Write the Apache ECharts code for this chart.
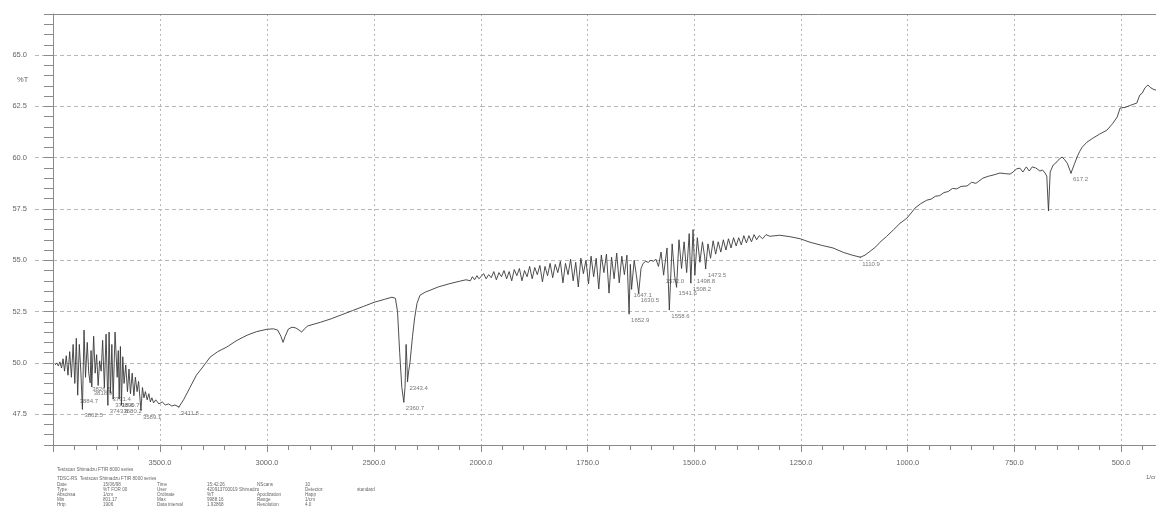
<!DOCTYPE html>
<html><head><meta charset="utf-8">
<script src="https://cdn.jsdelivr.net/npm/echarts@6/dist/echarts.min.js"></script>
<style>html,body{margin:0;padding:0;background:#fff}#c{width:1156px;height:509px}</style>
</head><body><div id="c"></div>
<script>
// ---- data (wavenumber in 1/cm, transmittance in %T) ----
const wavenumbers = [
 3990,3982,3975,3968,3960,3953,3946,3938,3930,3922,3914,3906,3898,3891,3884.7,3877,3870,3862.5,3855,3848,
 3840,3833,3826.5,3822,3818.9,3810,3803,3796,3789,3782,3775,3768,3760,3752,3743.6,3738,3731.4,3725,3718.8,3710,
 3700,3695,3690.7,3685,3680.2,3674,3668,3660,3652,3645,3638,3630,3622,3615,3607,3600,3589.1,3582,3575,3568,
 3560,3552,3545,3538,3530,3520,3505,3490,3475,3460,3445,3430,3411.8,3390,3360,3330,3300,3266,3230,3187,
 3140,3093,3050,3000,2970,2950,2935,2925,2915,2900,2883,2865,2850,2838,2826,2810,2750,2700,2650,2600,
 2550,2500,2450,2416,2400,2390,2380,2370,2360.7,2355,2350,2346,2343.4,2338,2332,2320,2310,2299,2285,2260,
 2238,2200,2150,2100,2070,2050,2040,2030,2019,2010,
 2000,1994,1988,1982,1976,1970,1964,1958,1952,1946,1940,1934,1928,1922,1916,1910,1904,1898,1892,1886,
 1880,1874,1868,1862,1856,1850,1844,1838,1832,1826,1820,1814,1808,1802,1796,1790,1784,1778,1772,1766,
 1760,1754,1748,1742,1736,1730,1724,1718,1712,1706,1700,1694,1688,1682,1676,1670,1664,1658,1652.9,1650,
 1647.1,1641,1636,1630.5,1625,1620,1614,1608,1602,1596,1590,1584,1578,1572,1564,1558.6,1552,1546,1541.6,1536,
 1530,1524,1518,1512,1508.2,1503,1498.8,1493,1487,1481,1476,1473.5,1468,1462,1456,1450,1444,1438,1432,1426,
 1420,1414,1408,1402,1396,1390,1384,1378,1372,1366,1360,1354,1348,1340,1332,1323,1300,1276,1252,1229,
 1200,1175,1150,1130,1110.9,1100,1088,1075,1065,1050,1034,1018,1002,990,983,970,955,945,935,925,
 915,905,895,885,875,861,850,840,824,810,800,784,770,760,753,745,737,730,722,715,
 708,700,697,690,684,678,674,670,666,659,650,644,638,632,626,620,617.2,609,603,597,
 591,580,566,550,533,520,509,502,490,478,463,456,450,444,437,430,423,418
];
const transmittance = [
 49.90,50.00,49.85,50.05,49.75,50.20,49.60,50.35,49.40,50.55,49.30,50.90,49.00,51.20,48.45,50.90,49.60,47.75,51.60,49.30,
 51.00,49.50,49.05,50.60,48.85,51.30,49.50,50.40,48.90,50.10,49.60,51.10,48.80,51.40,47.95,51.50,48.55,50.90,48.25,51.50,
 49.30,50.60,48.25,50.80,47.95,50.30,49.00,49.90,48.60,49.70,48.50,49.50,48.40,49.30,48.60,49.10,47.70,48.80,48.30,48.60,
 48.20,48.50,48.10,48.30,48.05,48.20,48.00,48.10,47.95,48.00,47.90,47.95,47.85,48.20,48.80,49.40,49.80,50.28,50.55,50.78,
 51.10,51.35,51.52,51.64,51.66,51.60,51.30,51.00,51.30,51.65,51.74,51.70,51.60,51.50,51.65,51.80,51.98,52.15,52.35,52.55,
 52.75,52.95,53.10,53.20,53.15,52.50,50.50,48.80,48.10,48.80,50.90,50.00,49.10,49.60,50.00,51.30,52.20,52.90,53.30,53.45,
 53.54,53.70,53.85,53.98,54.05,54.00,54.20,54.05,54.25,54.10,
 54.20,54.35,54.10,54.30,54.15,54.45,54.05,54.40,54.20,54.50,54.10,54.45,54.00,54.55,54.25,54.60,54.00,54.50,54.20,54.70,
 54.10,54.65,54.30,54.75,53.95,54.70,54.25,54.85,54.15,54.80,54.40,54.95,53.90,54.85,54.30,55.05,54.00,54.90,53.70,55.10,
 54.35,55.00,53.85,55.20,54.20,55.10,53.60,55.25,54.40,55.30,53.40,55.15,54.10,55.35,53.90,55.20,54.30,55.25,52.40,54.80,
 53.60,55.00,54.30,53.40,54.60,54.85,54.95,54.90,55.00,54.95,55.05,54.70,55.40,54.30,55.60,52.60,55.80,54.20,53.70,56.00,
 54.60,55.90,54.40,56.30,53.90,56.50,54.30,56.10,54.90,55.90,55.20,54.60,55.80,55.10,55.95,55.30,55.90,55.40,56.00,55.50,
 56.05,55.60,56.10,55.70,56.10,55.75,56.20,55.85,56.20,55.90,56.25,56.00,56.20,56.05,56.25,56.17,56.22,56.15,56.05,55.88,
 55.72,55.60,55.38,55.25,55.15,55.25,55.44,55.65,55.88,56.15,56.47,56.80,57.05,57.35,57.54,57.75,57.93,57.98,58.12,58.15,
 58.30,58.35,58.50,58.48,58.60,58.62,58.80,58.75,59.00,59.10,59.15,59.25,59.22,59.20,59.30,59.45,59.49,59.30,59.55,59.35,
 59.55,59.50,59.54,59.35,59.40,59.25,59.10,57.40,59.30,59.64,59.80,59.95,60.03,59.90,59.73,59.40,59.25,59.70,60.03,60.30,
 60.51,60.75,60.95,61.15,61.34,61.65,61.98,62.42,62.45,62.55,62.66,63.05,63.15,63.40,63.54,63.40,63.32,63.29
];
const peakWavenumbers = [3884.7,3862.5,3826.5,3818.9,3743.6,3731.4,3718.8,3690.7,3680.2,3589.1,3411.8,
  2360.7,2343.4,1652.9,1647.1,1630.5,1572.0,1558.6,1541.6,1508.2,1498.8,1473.5,1110.9,617.2];
const peakTransmittance = [48.45,47.75,49.05,48.85,47.95,48.55,48.25,48.25,47.95,47.70,47.85,
  48.10,49.10,52.40,53.60,53.40,54.30,52.60,53.70,53.90,54.30,54.60,55.15,59.25];
const yTickLabels = [47.5, 50.0, 52.5, 55.0, 57.5, 60.0, 62.5, 65.0];
const xLowTickLabels = [500, 750, 1000, 1250, 1500, 1750, 2000];
const xLowMinorTicks = [450, 550, 600, 650, 700, 800, 850, 900, 950, 1050, 1100, 1150, 1200,
  1300, 1350, 1400, 1450, 1550, 1600, 1650, 1700, 1800, 1850, 1900, 1950];
const infoTitle = ['Testscan Shimadzu FTIR 8000 series', 'TDSC-RS  Testscan Shimadzu FTIR 8000 series'];
const infoRows = [
  ['Date', '15/06/98', 'Time', '15:42:26', 'NScans', '10', '', ''],
  ['Type', '%T FOR 00', 'User', '420913700019 Shimadzu', '', 'Detector:', 'standard', ''],
  ['Abscissa', '1/cm', 'Ordinate', '%T', 'Apodization', 'Happ', '', ''],
  ['Min', '801.17', 'Max', '9988.16', 'Range', '1/cm', '', ''],
  ['Hrtp', '1906', 'Data interval', '1.92868', 'Resolution', '4.0', '', '']
];

// ---- build ----
const points = wavenumbers.map((w, i) => [w, transmittance[i]]);
const highPart = points.filter(p => p[0] >= 2000);
const lowPart = points.filter(p => p[0] <= 2000);
const peaks = peakWavenumbers.map((w, i) => [w, peakTransmittance[i]]);
const highPeaks = peaks.filter(p => p[0] >= 2000);
const lowPeaks = peaks.filter(p => p[0] < 2000);

const GRAY = '#8a8a8a', TXT = '#666', GRID = '#b8b8b8';
const FONT = 'Liberation Sans, Arial, sans-serif';
const LOW_MIN = 418;

const chart = echarts.init(document.getElementById('c'), null, {renderer: 'canvas'});

const tickStyle = {color: GRAY, width: 1};
const labelStyle = {color: TXT, fontSize: 7.5, fontFamily: FONT, margin: 14};

function topAxis(gi, min, max) {
  return {type: 'value', gridIndex: gi, inverse: true, min, max, position: 'top',
    axisLine: {show: true, lineStyle: {color: GRAY}}, axisTick: {show: false},
    axisLabel: {show: false}, splitLine: {show: false}};
}

const graphics = [
  {type: 'text', left: 17, top: 76, style: {text: '%T', fill: TXT, font: '7.5px ' + FONT}},
  {type: 'text', left: 1146, top: 474, style: {text: '1/cm', fill: TXT, font: '6px ' + FONT}}
];
infoTitle.forEach((t, i) => graphics.push({type: 'text', left: 57, top: i === 0 ? 467 : 476,
  style: {text: t, fill: TXT, font: '4.6px ' + FONT}}));
const colX = [57, 103, 157, 207, 257, 305, 357, 400];
infoRows.forEach((row, r) => row.forEach((t, c) => {
  if (t) graphics.push({type: 'text', left: colX[c], top: 482 + r * 5,
    style: {text: t, fill: TXT, font: '4.6px ' + FONT}});
}));

const peakLabel = {show: true, position: 'bottom', distance: 3, align: 'left', offset: [2, 0],
  color: '#555', fontSize: 6, fontFamily: FONT, formatter: p => p.value[0].toFixed(1)};

chart.setOption({
  animation: false,
  backgroundColor: '#fff',
  grid: [
    {left: 53, top: 14, width: 428, height: 431},
    {left: 481, top: 14, width: 675, height: 431}
  ],
  xAxis: [
    {type: 'value', gridIndex: 0, inverse: true, min: 2000, max: 4000, interval: 500, position: 'bottom',
      axisLine: {show: true, lineStyle: {color: GRAY}},
      axisTick: {show: true, length: 7, lineStyle: tickStyle},
      minorTick: {show: true, splitNumber: 5, length: 5, lineStyle: tickStyle},
      axisLabel: Object.assign({formatter: v => (v === 4000 || v === 2000) ? '' : v.toFixed(1)}, labelStyle),
      splitLine: {show: true, lineStyle: {color: GRID, type: [2, 3]}}},
    {type: 'value', gridIndex: 1, inverse: true, min: LOW_MIN, max: 2000, position: 'bottom',
      axisLine: {show: true, lineStyle: {color: GRAY}},
      axisTick: {show: true, length: 7, customValues: xLowTickLabels, lineStyle: tickStyle},
      axisLabel: Object.assign({customValues: xLowTickLabels, formatter: v => v.toFixed(1)}, labelStyle),
      splitLine: {show: true, lineStyle: {color: GRID, type: [2, 3]}}},
    topAxis(0, 2000, 4000),
    topAxis(1, LOW_MIN, 2000),
    {type: 'value', gridIndex: 1, inverse: true, min: LOW_MIN, max: 2000, position: 'bottom',
      axisLine: {show: false},
      axisTick: {show: true, length: 5, customValues: xLowMinorTicks, lineStyle: tickStyle},
      axisLabel: {show: false}, splitLine: {show: false}}
  ],
  yAxis: [
    {type: 'value', gridIndex: 0, min: 46, max: 67, position: 'left',
      axisLine: {show: true, lineStyle: {color: GRAY}},
      axisTick: {show: true, length: 19, customValues: yTickLabels, lineStyle: {color: GRID, type: [4, 3]}},
      axisLabel: {show: true, customValues: yTickLabels, color: TXT, fontSize: 7.5, fontFamily: FONT,
        margin: 26, formatter: v => v.toFixed(1)},
      splitLine: {show: true, lineStyle: {color: GRID, type: [4, 3]}}},
    {type: 'value', gridIndex: 0, min: 46, max: 67, interval: 0.5, position: 'left',
      axisLine: {show: false}, axisTick: {show: true, length: 9, lineStyle: tickStyle},
      axisLabel: {show: false}, splitLine: {show: false}},
    {type: 'value', gridIndex: 1, min: 46, max: 67, position: 'left',
      axisLine: {show: false},
      axisTick: {show: false, customValues: yTickLabels},
      axisLabel: {show: false, customValues: yTickLabels},
      splitLine: {show: true, lineStyle: {color: GRID, type: [4, 3]}}}
  ],
  series: [
    {type: 'line', xAxisIndex: 0, yAxisIndex: 0, data: highPart, showSymbol: false,
      lineStyle: {color: '#3a3a3a', width: 0.9}, silent: true},
    {type: 'line', xAxisIndex: 1, yAxisIndex: 2, data: lowPart, showSymbol: false,
      lineStyle: {color: '#3a3a3a', width: 0.9}, silent: true},
    {type: 'scatter', xAxisIndex: 0, yAxisIndex: 0, data: highPeaks, symbolSize: 1.5,
      itemStyle: {color: '#555'}, label: peakLabel},
    {type: 'scatter', xAxisIndex: 1, yAxisIndex: 2, data: lowPeaks, symbolSize: 1.5,
      itemStyle: {color: '#555'}, label: peakLabel}
  ],
  graphic: graphics
});
</script></body></html>
